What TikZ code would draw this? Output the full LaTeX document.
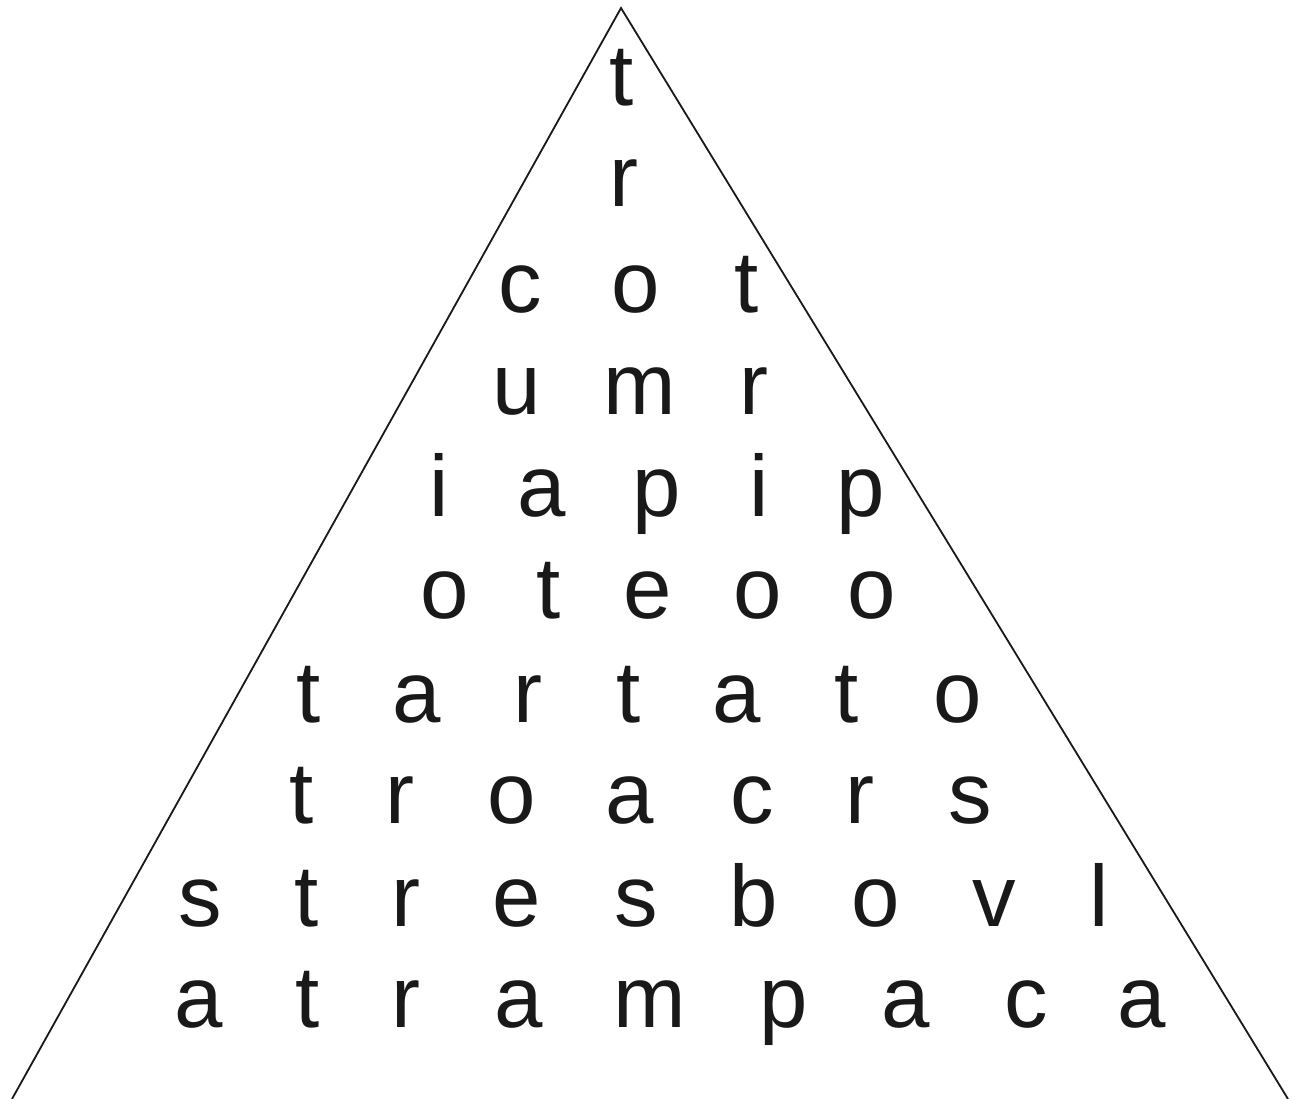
\documentclass[tikz,border=0pt]{standalone}
\usepackage{fontspec}
\setmainfont{Liberation Sans}
\begin{document}
\begin{tikzpicture}[x=1pt,y=-1pt,
  letter/.style={anchor=base,inner sep=0pt,outer sep=0pt,font=\fontsize{87}{90}\selectfont,text=black!90},
  side/.style={line width=1.8pt,black!90}]
\useasboundingbox (0,0) rectangle (1303,1099);
\coordinate (apex) at (621,8);
\coordinate (bl) at (12,1099);
\coordinate (br) at (1288,1099);
\draw[side] (bl) -- (apex) -- (br);
% row 1
\node[letter] (r1a) at (622,106) {t};
% row 2
\node[letter] (r2a) at (624,207) {r};
% row 3
\node[letter] (r3a) at (520,312) {c};
\node[letter] (r3b) at (636,312) {o};
\node[letter] (r3c) at (747,312) {t};
% row 4
\node[letter] (r4a) at (517,414) {u};
\node[letter] (r4b) at (640,414) {m};
\node[letter] (r4c) at (754,414) {r};
% row 5
\node[letter] (r5a) at (439,516) {i};
\node[letter] (r5b) at (542,516) {a};
\node[letter] (r5c) at (657,516) {p};
\node[letter] (r5d) at (759,516) {i};
\node[letter] (r5e) at (861,516) {p};
% row 6
\node[letter] (r6a) at (445,618) {o};
\node[letter] (r6b) at (549,618) {t};
\node[letter] (r6c) at (648,618) {e};
\node[letter] (r6d) at (758,618) {o};
\node[letter] (r6e) at (872,618) {o};
% row 7
\node[letter] (r7a) at (309,722) {t};
\node[letter] (r7b) at (417,722) {a};
\node[letter] (r7c) at (528,722) {r};
\node[letter] (r7d) at (629,722) {t};
\node[letter] (r7e) at (737,722) {a};
\node[letter] (r7f) at (847,722) {t};
\node[letter] (r7g) at (958,722) {o};
% row 8
\node[letter] (r8a) at (302,823) {t};
\node[letter] (r8b) at (400,823) {r};
\node[letter] (r8c) at (512,823) {o};
\node[letter] (r8d) at (630,823) {a};
\node[letter] (r8e) at (752,823) {c};
\node[letter] (r8f) at (860,823) {r};
\node[letter] (r8g) at (970,823) {s};
% row 9
\node[letter] (r9a) at (200,926) {s};
\node[letter] (r9b) at (307,926) {t};
\node[letter] (r9c) at (406,926) {r};
\node[letter] (r9d) at (517,926) {e};
\node[letter] (r9e) at (636,926) {s};
\node[letter] (r9f) at (754,926) {b};
\node[letter] (r9g) at (876,926) {o};
\node[letter] (r9h) at (994,926) {v};
\node[letter] (r9i) at (1099,926) {l};
% row 10
\node[letter] (r10a) at (199,1027) {a};
\node[letter] (r10b) at (308,1027) {t};
\node[letter] (r10c) at (406,1027) {r};
\node[letter] (r10d) at (519,1027) {a};
\node[letter] (r10e) at (650,1027) {m};
\node[letter] (r10f) at (784,1027) {p};
\node[letter] (r10g) at (906,1027) {a};
\node[letter] (r10h) at (1026,1027) {c};
\node[letter] (r10i) at (1142,1027) {a};
\end{tikzpicture}
\end{document}
